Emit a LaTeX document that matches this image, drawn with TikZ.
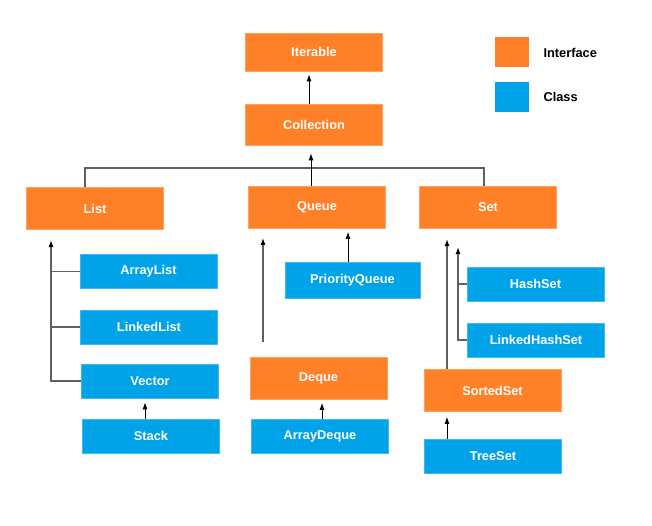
\documentclass[tikz,border=0pt]{standalone}
\usepackage{fontspec}
\setmainfont{Liberation Sans}
\usetikzlibrary{arrows.meta}
\definecolor{ifcorange}{RGB}{255,128,39}
\definecolor{clsblue}{RGB}{0,162,232}
\definecolor{linegray}{RGB}{95,95,95}
\tikzset{
	box/.style={minimum width=137pt, inner sep=0pt, text=white, font=\fontsize{12.8}{14}\selectfont\bfseries},
	iface/.style={box, fill=ifcorange, draw=ifcorange!75!white, line width=0.6pt, minimum height=42pt},
	cls/.style={box, fill=clsblue, draw=clsblue!75!white, line width=0.6pt, minimum height=34pt},
	link/.style={draw=linegray, line width=1.3pt},
	arr/.style={draw=black, line width=1pt, -{Latex[length=7pt,width=5pt]}},
	longarr/.style={link, -{Latex[length=7pt,width=5pt,color=black]}}
}
\begin{document}
\begin{tikzpicture}[x=1pt,y=-1pt]
			%%%%% START %%%%%
			\useasboundingbox (0,0) rectangle (652,525);
			
			% legend
			\node[fill=ifcorange, minimum width=34pt, minimum height=30pt] (keyI) at (512,52) {};
			\node[fill=clsblue, minimum width=34pt, minimum height=30pt] (keyC) at (512,97) {};
			\node[anchor=west, font=\fontsize{12.8}{14}\selectfont\bfseries] (keyIt) at (540,53) {Interface};
			\node[anchor=west, font=\fontsize{12.8}{14}\selectfont\bfseries] (keyCt) at (540,97) {Class};
			
			% interfaces
			\node[iface, minimum height=38pt] (Iterable) at (314,52) {Iterable};
			\node[iface, minimum height=41pt] (Collection) at (314,124.5) {Collection};
			\node[iface] (List) at (95,208.5) {List};
			\node[iface] (Queue) at (317,207.5) {Queue};
			\node[iface] (Set) at (488,207.5) {Set};
			\node[iface] (Deque) at (318.5,378.5) {Deque};
			\node[iface] (SortedSet) at (492.5,390.5) {SortedSet};
			
			% classes
			\node[cls] (ArrayList) at (148.5,271.5) {ArrayList};
			\node[cls] (LinkedList) at (149,327) {LinkedList};
			\node[cls] (Vector) at (150,381) {Vector};
			\node[cls] (Stack) at (151,436) {Stack};
			\node[cls, minimum width=135pt, minimum height=36pt] (PriorityQueue) at (352.5,280) {PriorityQueue};
			\node[cls] (ArrayDeque) at (320,436.5) {ArrayDeque};
			\node[cls] (HashSet) at (535.5,284) {HashSet};
			\node[cls] (LinkedHashSet) at (536,340) {LinkedHashSet};
			\node[cls] (TreeSet) at (493,456) {TreeSet};
			
			% Collection -> Iterable
			\draw[arr, shorten >=3pt] (Collection.north -| 309,0) -- (Iterable.south -| 309,0);
			
			% List, Queue, Set -> Collection
			\coordinate (busL) at (85,168);
			\coordinate (busR) at (484,168);
			\draw[link] (List.north -| busL) -- (busL) -- (busR) -- (Set.north -| busR);
			\coordinate (busM) at (311,186);
			\draw[arr, shorten >=8pt] (busM) -- (busM |- Collection.south);
			
			% list classes
			\coordinate (listX) at (51,230);
			\draw[longarr, shorten >=10pt] (Vector.west) -| (listX);
			\draw[link] (ArrayList.west) -- (ArrayList.west -| listX);
			\draw[link] (LinkedList.west) -- (LinkedList.west -| listX);
			\draw[arr, shorten >=4pt] (Stack.north -| 145,0) -- (Vector.south -| 145,0);
			
			% queue classes
			\coordinate (queueX) at (263,342);
			\draw[longarr, shorten >=9pt] (queueX) -- (queueX |- Queue.south);
			\draw[arr, shorten >=3pt] (PriorityQueue.north -| 348,0) -- (Queue.south -| 348,0);
			\draw[arr, shorten >=3pt] (ArrayDeque.north -| 322,0) -- (Deque.south -| 322,0);
			
			% set classes
			\coordinate (setA) at (447,229);
			\coordinate (setB) at (458,229);
			\draw[longarr, shorten >=10pt] (SortedSet.north -| setA) -- (setA);
			\draw[longarr, shorten >=18pt] (LinkedHashSet.west) -| (setB);
			\draw[link] (HashSet.west) -- (HashSet.west -| setB);
			\draw[arr, shorten >=5pt] (TreeSet.north -| 447,0) -- (SortedSet.south -| 447,0);
			%%%%% END %%%%%
\end{tikzpicture}
\end{document}
